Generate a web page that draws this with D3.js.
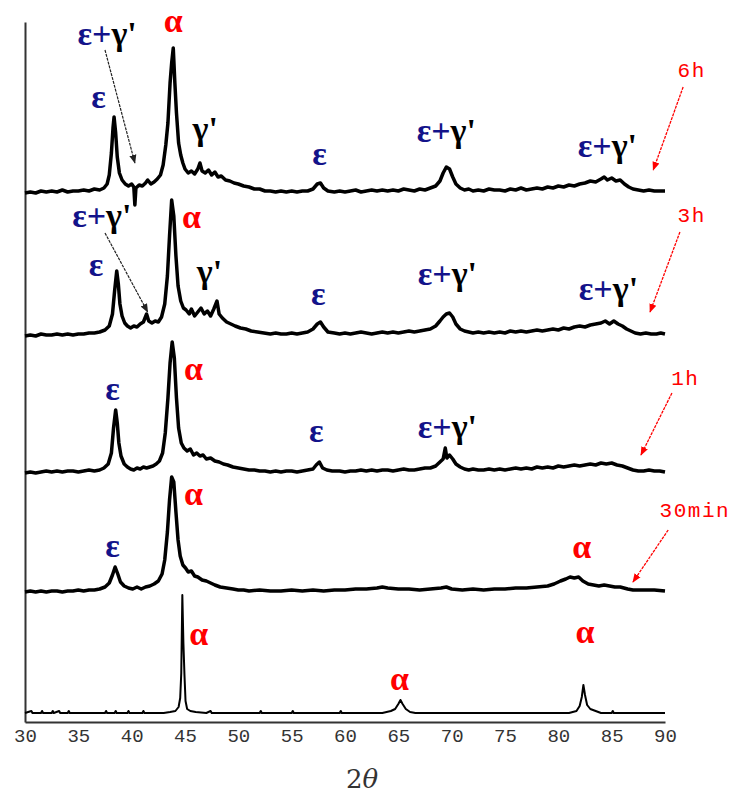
<!DOCTYPE html>
<html>
<head>
<meta charset="utf-8">
<script src="https://cdn.jsdelivr.net/npm/d3@7"></script>
<style>
  html, body { margin: 0; padding: 0; background: #fff; }
  svg { display: block; }
</style>
</head>
<body>
<svg id="chart"></svg>
<script>
// 2theta ticks
const tickValues = [30, 35, 40, 45, 50, 55, 60, 65, 70, 75, 80, 85, 90]

// baseline offset of each pattern (arbitrary units, bottom to top)
const sampleNames = ["0", "30min", "1h", "3h", "6h"]
const sampleOffsets = [9, 130, 249, 386, 529]

// [2theta, intensity above own baseline]
const trace0 = [[30,0],[30.6,2],[30.7,0],[31.5,0],[31.6,2],[31.7,0],[32.5,0],[32.6,2],[32.7,0],[33.2,2],[33.3,0],[34,0],[34.1,2],[34.2,0],[36,0],[37.5,0],[37.6,2],[37.7,0],[38.4,0],[38.5,2],[38.6,0],[39.6,0],[39.7,2],[39.8,0],[41,0],[41.1,2],[41.2,0],[43,0],[43.6,1],[44.1,2],[44.4,6],[44.55,15],[44.65,40],[44.75,118],[44.85,70],[44.95,38],[45.05,12],[45.2,4],[45.5,2],[46,1],[47,0],[47.4,2],[47.5,0],[52,0],[52.1,2],[52.2,0],[55,0],[55.1,2],[55.2,0],[59.5,0],[59.6,2],[59.7,0],[63.5,0],[64.3,2],[64.7,4],[65.0,9],[65.2,13],[65.4,9],[65.7,4],[66.1,1],[66.6,0],[81,0],[81.7,2],[82.0,7],[82.2,16],[82.35,28],[82.5,18],[82.7,8],[83.0,4],[83.5,2],[84,0],[85,0],[85.1,2],[85.2,0],[90,0]]

const trace30min = [[30,0],[30.5,1],[31,0],[31.5,1],[32,0],[32.5,1],[33,1],[33.5,0],[34,1],[34.5,1],[35,2],[35.5,1],[36,2],[36.5,2],[37,3],[37.5,5],[37.9,9],[38.2,17],[38.45,25],[38.7,18],[38.95,10],[39.3,6],[39.7,4],[40.1,3],[40.5,5],[40.9,3],[41.3,5],[41.7,6],[42.1,8],[42.5,11],[42.85,18],[43.1,32],[43.35,60],[43.55,92],[43.75,115],[43.95,110],[44.15,80],[44.35,52],[44.55,36],[44.8,27],[45.05,24],[45.3,20],[45.6,21],[45.9,16],[46.2,15],[46.6,12],[47,11],[47.4,9],[47.8,7],[48.3,5],[48.9,4],[49.5,3],[50,2],[50.5,2],[51,1],[52,2],[53,1],[54,1],[55,2],[56,1],[57,2],[58,1],[59,2],[60,2],[61,3],[62,3],[63,4],[63.5,5],[64,4],[65,3],[66,3],[67,2],[68,3],[69,4],[69.5,5],[70,3],[71,2],[72,3],[73,2],[74,3],[75,3],[76,4],[77,4],[78,5],[79,6],[79.6,8],[80.2,11],[80.7,13],[81.1,15],[81.5,14],[81.9,15],[82.3,11],[82.8,8],[83.3,7],[83.8,6],[84.3,7],[84.8,6],[85.3,5],[85.8,5],[86.5,3],[87,2],[88,2],[89,2],[90,1]]

const trace1h = [[30,0],[30.5,1],[31,0],[31.5,1],[32,2],[32.5,1],[33,2],[33.5,1],[34,2],[34.5,2],[35,1],[35.5,2],[36,3],[36.5,2],[37,3],[37.4,5],[37.8,9],[38.1,20],[38.3,45],[38.5,63],[38.65,50],[38.8,30],[39.0,17],[39.3,9],[39.6,6],[39.9,4],[40.2,3],[40.5,5],[40.8,4],[41.1,6],[41.4,5],[41.7,6],[42.0,7],[42.3,9],[42.6,12],[42.9,20],[43.15,40],[43.4,75],[43.6,110],[43.8,131],[44.0,115],[44.2,75],[44.4,45],[44.65,30],[44.9,25],[45.2,22],[45.5,24],[45.8,18],[46.1,20],[46.4,17],[46.7,18],[47.0,14],[47.4,15],[47.8,12],[48.2,11],[48.6,9],[49,8],[49.5,6],[50,5],[50.5,4],[51,3],[51.5,3],[52,2],[52.5,2],[53,1],[53.5,2],[54,1],[54.5,2],[55,2],[55.5,1],[56,2],[56.5,3],[57,4],[57.3,8],[57.6,11],[57.9,5],[58.3,3],[58.8,2],[59.5,2],[60,1],[60.5,2],[61,2],[61.5,3],[62,2],[62.5,3],[63,2],[63.5,3],[64,3],[64.5,2],[65,3],[65.5,4],[66,3],[66.5,3],[67,4],[67.5,5],[68,5],[68.5,7],[68.9,11],[69.2,14],[69.4,25],[69.55,15],[69.8,18],[70.1,14],[70.4,9],[70.8,6],[71.2,4],[71.6,3],[72,4],[72.5,3],[73,3],[73.5,4],[74,3],[74.5,4],[75,3],[75.5,4],[76,5],[76.5,4],[77,5],[77.5,4],[78,6],[78.5,5],[79,6],[79.5,5],[80,7],[80.5,6],[81,7],[81.5,8],[82,7],[82.5,8],[83,9],[83.5,8],[84,10],[84.5,9],[85,10],[85.5,8],[86,7],[86.5,5],[87,3],[87.5,2],[88,2],[88.5,3],[89,2],[89.5,2],[90,1]]

const trace3h = [[30,0],[30.5,1],[31,0],[31.5,2],[32,1],[32.5,1],[33,2],[33.5,1],[34,2],[34.5,1],[35,2],[35.5,2],[36,3],[36.5,3],[37,4],[37.5,6],[37.9,10],[38.2,22],[38.4,45],[38.6,65],[38.75,52],[38.9,32],[39.1,20],[39.35,13],[39.6,10],[39.9,8],[40.2,10],[40.5,9],[40.8,12],[41.1,14],[41.4,22],[41.6,15],[41.9,13],[42.2,15],[42.5,14],[42.8,19],[43.1,32],[43.35,60],[43.55,100],[43.75,136],[43.95,120],[44.15,80],[44.35,50],[44.6,35],[44.85,28],[45.1,26],[45.4,22],[45.6,27],[45.9,20],[46.2,24],[46.5,28],[46.8,22],[47.1,25],[47.4,20],[47.7,27],[48.0,35],[48.2,22],[48.5,18],[48.9,14],[49.3,12],[49.7,10],[50.2,8],[50.7,7],[51.2,5],[51.8,4],[52.4,3],[53,2],[53.5,3],[54,2],[54.5,2],[55,3],[55.5,2],[56,3],[56.5,4],[57,7],[57.4,12],[57.7,14],[58,9],[58.4,4],[59,3],[59.5,2],[60,3],[60.5,2],[61,3],[61.5,4],[62,3],[62.5,2],[63,3],[63.5,4],[64,3],[64.5,4],[65,3],[65.5,4],[66,5],[66.5,4],[67,5],[67.5,6],[68,7],[68.5,10],[68.9,15],[69.2,19],[69.5,22],[69.8,23],[70.1,19],[70.4,12],[70.8,7],[71.2,5],[71.6,4],[72,3],[72.5,4],[73,3],[73.5,4],[74,3],[74.5,4],[75,3],[75.5,5],[76,4],[76.5,5],[77,4],[77.5,5],[78,6],[78.5,5],[79,6],[79.5,7],[80,6],[80.5,8],[81,7],[81.5,9],[82,10],[82.5,9],[83,11],[83.5,12],[84,13],[84.4,15],[84.8,12],[85.2,15],[85.6,12],[86,10],[86.4,7],[86.8,5],[87.2,3],[87.7,2],[88.2,3],[88.7,2],[89.2,2],[89.6,3],[90,2]]

const trace6h = [[30,0],[30.5,1],[31,0],[31.5,2],[32,1],[32.5,2],[33,1],[33.5,3],[34,1],[34.5,2],[35,2],[35.5,3],[36,2],[36.5,4],[37,3],[37.4,5],[37.7,9],[37.9,18],[38.1,40],[38.25,65],[38.35,76],[38.5,60],[38.65,36],[38.85,20],[39.1,13],[39.4,9],[39.7,7],[40.0,9],[40.2,6],[40.3,-12],[40.4,5],[40.7,8],[41.0,7],[41.3,10],[41.5,13],[41.8,9],[42.1,11],[42.4,14],[42.7,18],[42.95,28],[43.2,48],[43.4,70],[43.6,110],[43.75,130],[43.9,145],[44.05,110],[44.2,80],[44.4,50],[44.6,38],[44.8,30],[45.0,24],[45.3,20],[45.6,22],[45.9,19],[46.2,24],[46.4,30],[46.6,22],[46.9,20],[47.2,23],[47.5,18],[47.8,21],[48.1,16],[48.4,17],[48.8,13],[49.2,12],[49.6,10],[50,9],[50.5,7],[51,6],[51.5,4],[52,4],[52.5,2],[53,2],[53.5,1],[54,2],[54.5,1],[55,2],[55.5,1],[56,2],[56.5,2],[57,4],[57.4,9],[57.7,10],[58,5],[58.4,2],[59,1],[59.5,2],[60,1],[60.5,2],[61,3],[61.5,1],[62,2],[62.5,3],[63,2],[63.5,3],[64,2],[64.5,3],[65,2],[65.5,4],[66,3],[66.5,2],[67,4],[67.5,3],[68,5],[68.5,7],[68.9,12],[69.2,20],[69.5,26],[69.8,24],[70.1,16],[70.4,9],[70.8,5],[71.2,3],[71.6,4],[72,2],[72.5,3],[73,2],[73.5,4],[74,3],[74.5,3],[75,2],[75.5,4],[76,3],[76.5,5],[77,3],[77.5,4],[78,5],[78.5,4],[79,6],[79.5,5],[80,7],[80.5,6],[81,8],[81.5,7],[82,9],[82.5,10],[83,12],[83.5,11],[84,14],[84.3,16],[84.6,13],[85,15],[85.4,12],[85.8,13],[86.2,9],[86.6,6],[87,4],[87.5,3],[88,2],[88.5,3],[89,2],[89.5,2],[90,2]]

const traces = [trace0, trace30min, trace1h, trace3h, trace6h]

// phase labels: [2theta, level, kind]  e = epsilon, a = alpha, g = gamma', eg = epsilon+gamma'
const phaseLabels = [
  [37.7, 677, "eg"], [43.9, 690, "a"], [36.9, 614, "e"], [46.9, 582, "g"],
  [57.6, 557, "e"], [69.5, 580, "eg"], [84.6, 565, "eg"],
  [37.2, 495, "eg"], [45.6, 494, "a"], [36.65, 446, "e"], [47.3, 439, "g"],
  [57.5, 417, "e"], [69.6, 437, "eg"], [84.7, 422, "eg"],
  [45.8, 342, "a"], [38.2, 322, "e"], [57.3, 280, "e"], [69.6, 284, "eg"],
  [45.8, 217, "a"], [38.2, 165, "e"], [82.2, 164, "a"],
  [46.3, 77, "a"], [65.1, 32, "a"], [82.5, 79, "a"],
]

// time labels: [2theta, level, text]
const timeLabels = [[92.5, 645, "6h"], [92.5, 500, "3h"], [91.9, 337, "1h"], [92.8, 205, "30min"]]

// arrows: [x1, y1, x2, y2] in data units
const blackArrows = [[37.5, 672, 40.3, 559], [37.5, 489, 41.5, 410]]
const redArrows = [[91.7, 635, 88.9, 552], [91.4, 490, 88.6, 410], [90.65, 329, 87.75, 267], [90.3, 192, 87.0, 140]]

const W = 734, H = 794
const svg = d3.select("#chart").attr("width", W).attr("height", H)
svg.append("rect").attr("width", W).attr("height", H).attr("fill", "#fff")

const x = d3.scaleLinear().domain([30, 90]).range([25, 665])
const y = d3.scaleLinear().domain([0, 700]).range([722, 22])

const navy = "#13138a"
const red = "#ff0000"

const defs = svg.append("defs")
const marker = (id, color) =>
  defs.append("marker")
    .attr("id", id)
    .attr("viewBox", "0 0 10 10")
    .attr("refX", 9).attr("refY", 5)
    .attr("markerWidth", 9).attr("markerHeight", 9)
    .attr("markerUnits", "userSpaceOnUse")
    .attr("orient", "auto")
    .append("path").attr("d", "M0,1 L10,5 L0,9 Z").attr("fill", color)
marker("headBlack", "#222")
marker("headRed", red)

// axes
svg.append("g")
  .attr("transform", `translate(0,${y(0)})`)
  .call(d3.axisBottom(x).tickValues(tickValues).tickSize(0).tickPadding(7).tickFormat(d3.format("d")))
  .call((g) => g.select(".domain").attr("stroke", "#333").attr("stroke-width", 2))
  .call((g) => g.selectAll("text")
    .attr("font-family", "'Liberation Mono', monospace")
    .attr("font-size", 19).attr("fill", "#333"))

svg.append("g")
  .attr("transform", `translate(${x(30)},0)`)
  .call(d3.axisLeft(y).tickValues([]).tickSize(0))
  .call((g) => g.select(".domain").attr("stroke", "#333").attr("stroke-width", 2))

// patterns
const line = (off) => d3.line().x((d) => x(d[0])).y((d) => y(off + d[1]))

svg.append("g")
  .selectAll("path")
  .data(traces)
  .join("path")
  .attr("fill", "none")
  .attr("stroke", "#000")
  .attr("stroke-linejoin", "round")
  .attr("stroke-width", (d, i) => (i === 0 ? 2 : 3.5))
  .attr("d", (d, i) => line(sampleOffsets[i])(d))

// arrows
svg.append("g").selectAll("line").data(blackArrows).join("line")
  .attr("x1", (d) => x(d[0])).attr("y1", (d) => y(d[1]))
  .attr("x2", (d) => x(d[2])).attr("y2", (d) => y(d[3]))
  .attr("stroke", "#222").attr("stroke-width", 1.2).attr("stroke-dasharray", "3,1")
  .attr("marker-end", "url(#headBlack)")

svg.append("g").selectAll("line").data(redArrows).join("line")
  .attr("x1", (d) => x(d[0])).attr("y1", (d) => y(d[1]))
  .attr("x2", (d) => x(d[2])).attr("y2", (d) => y(d[3]))
  .attr("stroke", red).attr("stroke-width", 1.3).attr("stroke-dasharray", "3,1")
  .attr("marker-end", "url(#headRed)")

// phase labels
const lab = svg.append("g")
  .attr("font-family", "'Liberation Serif', 'Times New Roman', serif")
  .attr("font-weight", "bold")
  .attr("font-size", 34)
  .attr("text-anchor", "middle")

phaseLabels.forEach(([tt, lv, kind]) => {
  const t = lab.append("text").attr("x", x(tt)).attr("y", y(lv))
  if (kind === "a") t.attr("fill", red).text("α")
  else if (kind === "e") t.attr("fill", navy).text("ε")
  else if (kind === "g") t.attr("fill", "#000").text("γ'")
  else {
    t.append("tspan").attr("fill", navy).text("ε+")
    t.append("tspan").attr("fill", "#000").text("γ'")
  }
})

// time labels
svg.append("g")
  .attr("font-family", "'Liberation Mono', monospace")
  .attr("font-size", 21)
  .attr("letter-spacing", 1.5)
  .attr("fill", red)
  .selectAll("text").data(timeLabels).join("text")
  .attr("x", (d) => x(d[0])).attr("y", (d) => y(d[1]))
  .attr("text-anchor", "middle")
  .text((d) => d[2])

// x title
svg.append("text")
  .attr("x", x(61.6)).attr("y", 788)
  .attr("text-anchor", "middle")
  .attr("font-family", "'DejaVu Serif', serif")
  .attr("font-size", 26)
  .attr("fill", "#333")
  .call((t) => {
    t.append("tspan").text("2")
    t.append("tspan").attr("font-style", "italic").text("θ")
  })
</script>
</body>
</html>
